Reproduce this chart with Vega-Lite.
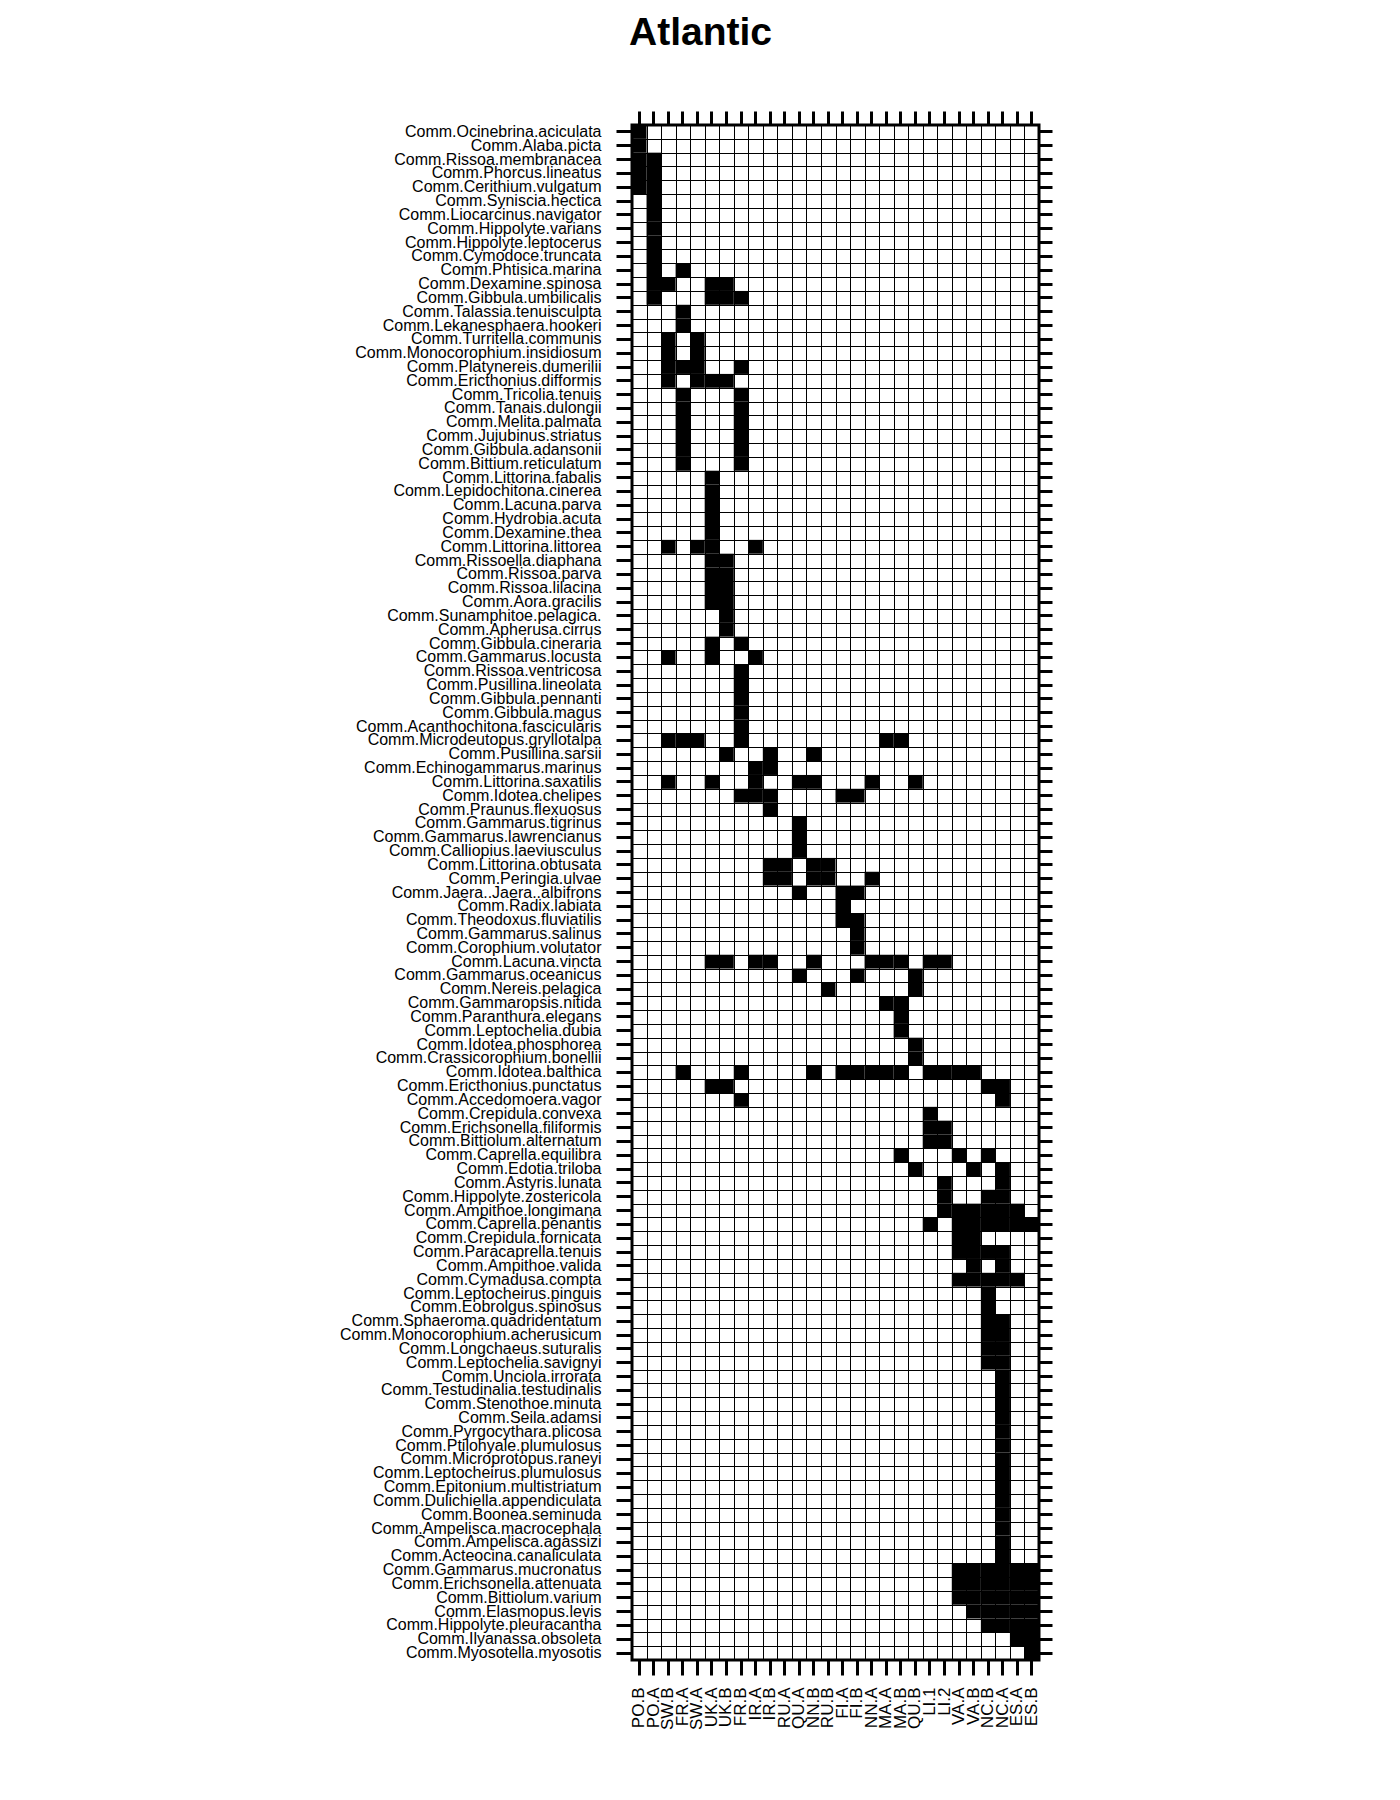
{
  "$schema": "https://vega.github.io/schema/vega-lite/v6.json",
  "width": 407,
  "height": 1535,
  "autosize": "none",
  "padding": {"left": 632, "top": 125, "right": 361, "bottom": 140},
  "background": "white",
  "title": {"text": "Atlantic", "font": "Liberation Sans", "fontSize": 39, "fontWeight": "bold", "color": "black", "anchor": "middle", "frame": "group", "dx": -135, "offset": 57},
  "config": {
    "view": {"stroke": "black", "strokeWidth": 3},
    "axis": {"labelFont": "Liberation Sans", "labelFontSize": 16, "labelColor": "black", "tickColor": "black", "tickWidth": 3, "domain": false, "title": null, "grid": false, "labelLimit": 500}
  },
  "data": {"values": [
    {"sp": "Comm.Ocinebrina.aciculata", "s": ["PO.B"]},
    {"sp": "Comm.Alaba.picta", "s": ["PO.B"]},
    {"sp": "Comm.Rissoa.membranacea", "s": ["PO.B", "PO.A"]},
    {"sp": "Comm.Phorcus.lineatus", "s": ["PO.B", "PO.A"]},
    {"sp": "Comm.Cerithium.vulgatum", "s": ["PO.B", "PO.A"]},
    {"sp": "Comm.Syniscia.hectica", "s": ["PO.A"]},
    {"sp": "Comm.Liocarcinus.navigator", "s": ["PO.A"]},
    {"sp": "Comm.Hippolyte.varians", "s": ["PO.A"]},
    {"sp": "Comm.Hippolyte.leptocerus", "s": ["PO.A"]},
    {"sp": "Comm.Cymodoce.truncata", "s": ["PO.A"]},
    {"sp": "Comm.Phtisica.marina", "s": ["PO.A", "FR.A"]},
    {"sp": "Comm.Dexamine.spinosa", "s": ["PO.A", "SW.B", "UK.A", "UK.B"]},
    {"sp": "Comm.Gibbula.umbilicalis", "s": ["PO.A", "UK.A", "UK.B", "FR.B"]},
    {"sp": "Comm.Talassia.tenuisculpta", "s": ["FR.A"]},
    {"sp": "Comm.Lekanesphaera.hookeri", "s": ["FR.A"]},
    {"sp": "Comm.Turritella.communis", "s": ["SW.B", "SW.A"]},
    {"sp": "Comm.Monocorophium.insidiosum", "s": ["SW.B", "SW.A"]},
    {"sp": "Comm.Platynereis.dumerilii", "s": ["SW.B", "FR.A", "SW.A", "FR.B"]},
    {"sp": "Comm.Ericthonius.difformis", "s": ["SW.B", "SW.A", "UK.A", "UK.B"]},
    {"sp": "Comm.Tricolia.tenuis", "s": ["FR.A", "FR.B"]},
    {"sp": "Comm.Tanais.dulongii", "s": ["FR.A", "FR.B"]},
    {"sp": "Comm.Melita.palmata", "s": ["FR.A", "FR.B"]},
    {"sp": "Comm.Jujubinus.striatus", "s": ["FR.A", "FR.B"]},
    {"sp": "Comm.Gibbula.adansonii", "s": ["FR.A", "FR.B"]},
    {"sp": "Comm.Bittium.reticulatum", "s": ["FR.A", "FR.B"]},
    {"sp": "Comm.Littorina.fabalis", "s": ["UK.A"]},
    {"sp": "Comm.Lepidochitona.cinerea", "s": ["UK.A"]},
    {"sp": "Comm.Lacuna.parva", "s": ["UK.A"]},
    {"sp": "Comm.Hydrobia.acuta", "s": ["UK.A"]},
    {"sp": "Comm.Dexamine.thea", "s": ["UK.A"]},
    {"sp": "Comm.Littorina.littorea", "s": ["SW.B", "SW.A", "UK.A", "IR.A"]},
    {"sp": "Comm.Rissoella.diaphana", "s": ["UK.A", "UK.B"]},
    {"sp": "Comm.Rissoa.parva", "s": ["UK.A", "UK.B"]},
    {"sp": "Comm.Rissoa.lilacina", "s": ["UK.A", "UK.B"]},
    {"sp": "Comm.Aora.gracilis", "s": ["UK.A", "UK.B"]},
    {"sp": "Comm.Sunamphitoe.pelagica.", "s": ["UK.B"]},
    {"sp": "Comm.Apherusa.cirrus", "s": ["UK.B"]},
    {"sp": "Comm.Gibbula.cineraria", "s": ["UK.A", "FR.B"]},
    {"sp": "Comm.Gammarus.locusta", "s": ["SW.B", "UK.A", "IR.A"]},
    {"sp": "Comm.Rissoa.ventricosa", "s": ["FR.B"]},
    {"sp": "Comm.Pusillina.lineolata", "s": ["FR.B"]},
    {"sp": "Comm.Gibbula.pennanti", "s": ["FR.B"]},
    {"sp": "Comm.Gibbula.magus", "s": ["FR.B"]},
    {"sp": "Comm.Acanthochitona.fascicularis", "s": ["FR.B"]},
    {"sp": "Comm.Microdeutopus.gryllotalpa", "s": ["SW.B", "FR.A", "SW.A", "FR.B", "MA.A", "MA.B"]},
    {"sp": "Comm.Pusillina.sarsii", "s": ["UK.B", "IR.B", "NN.B"]},
    {"sp": "Comm.Echinogammarus.marinus", "s": ["IR.A", "IR.B"]},
    {"sp": "Comm.Littorina.saxatilis", "s": ["SW.B", "UK.A", "IR.A", "QU.A", "NN.B", "NN.A", "QU.B"]},
    {"sp": "Comm.Idotea.chelipes", "s": ["FR.B", "IR.A", "IR.B", "FI.A", "FI.B"]},
    {"sp": "Comm.Praunus.flexuosus", "s": ["IR.B"]},
    {"sp": "Comm.Gammarus.tigrinus", "s": ["QU.A"]},
    {"sp": "Comm.Gammarus.lawrencianus", "s": ["QU.A"]},
    {"sp": "Comm.Calliopius.laeviusculus", "s": ["QU.A"]},
    {"sp": "Comm.Littorina.obtusata", "s": ["IR.B", "RU.A", "NN.B", "RU.B"]},
    {"sp": "Comm.Peringia.ulvae", "s": ["IR.B", "RU.A", "NN.B", "RU.B", "NN.A"]},
    {"sp": "Comm.Jaera..Jaera..albifrons", "s": ["QU.A", "FI.A", "FI.B"]},
    {"sp": "Comm.Radix.labiata", "s": ["FI.A"]},
    {"sp": "Comm.Theodoxus.fluviatilis", "s": ["FI.A", "FI.B"]},
    {"sp": "Comm.Gammarus.salinus", "s": ["FI.B"]},
    {"sp": "Comm.Corophium.volutator", "s": ["FI.B"]},
    {"sp": "Comm.Lacuna.vincta", "s": ["UK.A", "UK.B", "IR.A", "IR.B", "NN.B", "NN.A", "MA.A", "MA.B", "LI.1", "LI.2"]},
    {"sp": "Comm.Gammarus.oceanicus", "s": ["QU.A", "FI.B", "QU.B"]},
    {"sp": "Comm.Nereis.pelagica", "s": ["RU.B", "QU.B"]},
    {"sp": "Comm.Gammaropsis.nitida", "s": ["MA.A", "MA.B"]},
    {"sp": "Comm.Paranthura.elegans", "s": ["MA.B"]},
    {"sp": "Comm.Leptochelia.dubia", "s": ["MA.B"]},
    {"sp": "Comm.Idotea.phosphorea", "s": ["QU.B"]},
    {"sp": "Comm.Crassicorophium.bonellii", "s": ["QU.B"]},
    {"sp": "Comm.Idotea.balthica", "s": ["FR.A", "FR.B", "NN.B", "FI.A", "FI.B", "NN.A", "MA.A", "MA.B", "LI.1", "LI.2", "VA.A", "VA.B"]},
    {"sp": "Comm.Ericthonius.punctatus", "s": ["UK.A", "UK.B", "NC.B", "NC.A"]},
    {"sp": "Comm.Accedomoera.vagor", "s": ["FR.B", "NC.A"]},
    {"sp": "Comm.Crepidula.convexa", "s": ["LI.1"]},
    {"sp": "Comm.Erichsonella.filiformis", "s": ["LI.1", "LI.2"]},
    {"sp": "Comm.Bittiolum.alternatum", "s": ["LI.1", "LI.2"]},
    {"sp": "Comm.Caprella.equilibra", "s": ["MA.B", "VA.A", "NC.B"]},
    {"sp": "Comm.Edotia.triloba", "s": ["QU.B", "VA.B", "NC.A"]},
    {"sp": "Comm.Astyris.lunata", "s": ["LI.2", "NC.A"]},
    {"sp": "Comm.Hippolyte.zostericola", "s": ["LI.2", "NC.B", "NC.A"]},
    {"sp": "Comm.Ampithoe.longimana", "s": ["LI.2", "VA.A", "VA.B", "NC.B", "NC.A", "ES.A"]},
    {"sp": "Comm.Caprella.penantis", "s": ["LI.1", "VA.A", "VA.B", "NC.B", "NC.A", "ES.A", "ES.B"]},
    {"sp": "Comm.Crepidula.fornicata", "s": ["VA.A", "VA.B"]},
    {"sp": "Comm.Paracaprella.tenuis", "s": ["VA.A", "VA.B", "NC.B", "NC.A"]},
    {"sp": "Comm.Ampithoe.valida", "s": ["VA.B", "NC.A"]},
    {"sp": "Comm.Cymadusa.compta", "s": ["VA.A", "VA.B", "NC.B", "NC.A", "ES.A"]},
    {"sp": "Comm.Leptocheirus.pinguis", "s": ["NC.B"]},
    {"sp": "Comm.Eobrolgus.spinosus", "s": ["NC.B"]},
    {"sp": "Comm.Sphaeroma.quadridentatum", "s": ["NC.B", "NC.A"]},
    {"sp": "Comm.Monocorophium.acherusicum", "s": ["NC.B", "NC.A"]},
    {"sp": "Comm.Longchaeus.suturalis", "s": ["NC.B", "NC.A"]},
    {"sp": "Comm.Leptochelia.savignyi", "s": ["NC.B", "NC.A"]},
    {"sp": "Comm.Unciola.irrorata", "s": ["NC.A"]},
    {"sp": "Comm.Testudinalia.testudinalis", "s": ["NC.A"]},
    {"sp": "Comm.Stenothoe.minuta", "s": ["NC.A"]},
    {"sp": "Comm.Seila.adamsi", "s": ["NC.A"]},
    {"sp": "Comm.Pyrgocythara.plicosa", "s": ["NC.A"]},
    {"sp": "Comm.Ptilohyale.plumulosus", "s": ["NC.A"]},
    {"sp": "Comm.Microprotopus.raneyi", "s": ["NC.A"]},
    {"sp": "Comm.Leptocheirus.plumulosus", "s": ["NC.A"]},
    {"sp": "Comm.Epitonium.multistriatum", "s": ["NC.A"]},
    {"sp": "Comm.Dulichiella.appendiculata", "s": ["NC.A"]},
    {"sp": "Comm.Boonea.seminuda", "s": ["NC.A"]},
    {"sp": "Comm.Ampelisca.macrocephala", "s": ["NC.A"]},
    {"sp": "Comm.Ampelisca.agassizi", "s": ["NC.A"]},
    {"sp": "Comm.Acteocina.canaliculata", "s": ["NC.A"]},
    {"sp": "Comm.Gammarus.mucronatus", "s": ["VA.A", "VA.B", "NC.B", "NC.A", "ES.A", "ES.B"]},
    {"sp": "Comm.Erichsonella.attenuata", "s": ["VA.A", "VA.B", "NC.B", "NC.A", "ES.A", "ES.B"]},
    {"sp": "Comm.Bittiolum.varium", "s": ["VA.A", "VA.B", "NC.B", "NC.A", "ES.A", "ES.B"]},
    {"sp": "Comm.Elasmopus.levis", "s": ["VA.B", "NC.B", "NC.A", "ES.A", "ES.B"]},
    {"sp": "Comm.Hippolyte.pleuracantha", "s": ["NC.B", "NC.A", "ES.A", "ES.B"]},
    {"sp": "Comm.Ilyanassa.obsoleta", "s": ["ES.A", "ES.B"]},
    {"sp": "Comm.Myosotella.myosotis", "s": ["ES.B"]}
  ]},
  "transform": [{"flatten": ["s"], "as": ["site"]}],
  "layer": [
    {
      "mark": {"type": "rect", "color": "black"},
      "encoding": {
        "x": {"field": "site", "type": "nominal", "scale": {"domain": ["PO.B", "PO.A", "SW.B", "FR.A", "SW.A", "UK.A", "UK.B", "FR.B", "IR.A", "IR.B", "RU.A", "QU.A", "NN.B", "RU.B", "FI.A", "FI.B", "NN.A", "MA.A", "MA.B", "QU.B", "LI.1", "LI.2", "VA.A", "VA.B", "NC.B", "NC.A", "ES.A", "ES.B"]},
          "axis": {"orient": "bottom", "labelAngle": -90, "labelFontSize": 17, "tickSize": 15, "labelPadding": 12}},
        "y": {"field": "sp", "type": "nominal", "sort": null,
          "axis": {"orient": "left", "tickSize": 16, "labelPadding": 15}}
      }
    },
    {
      "mark": {"type": "rect", "opacity": 0},
      "encoding": {
        "x": {"field": "site", "type": "nominal", "axis": {"orient": "top", "labels": false, "tickSize": 14}},
        "y": {"field": "sp", "type": "nominal", "sort": null, "axis": {"orient": "right", "labels": false, "tickSize": 13}}
      }
    },
    {
      "mark": {"type": "rect", "opacity": 0},
      "encoding": {
        "x": {"field": "site", "type": "nominal", "axis": {"orient": "bottom", "labels": false, "ticks": false, "grid": true, "gridColor": "black", "gridWidth": 1, "gridOpacity": 1, "tickBand": "extent"}},
        "y": {"field": "sp", "type": "nominal", "sort": null, "axis": {"orient": "left", "labels": false, "ticks": false, "grid": true, "gridColor": "black", "gridWidth": 1, "gridOpacity": 1, "tickBand": "extent"}}
      }
    }
  ],
  "resolve": {"axis": {"x": "independent", "y": "independent"}}
}
